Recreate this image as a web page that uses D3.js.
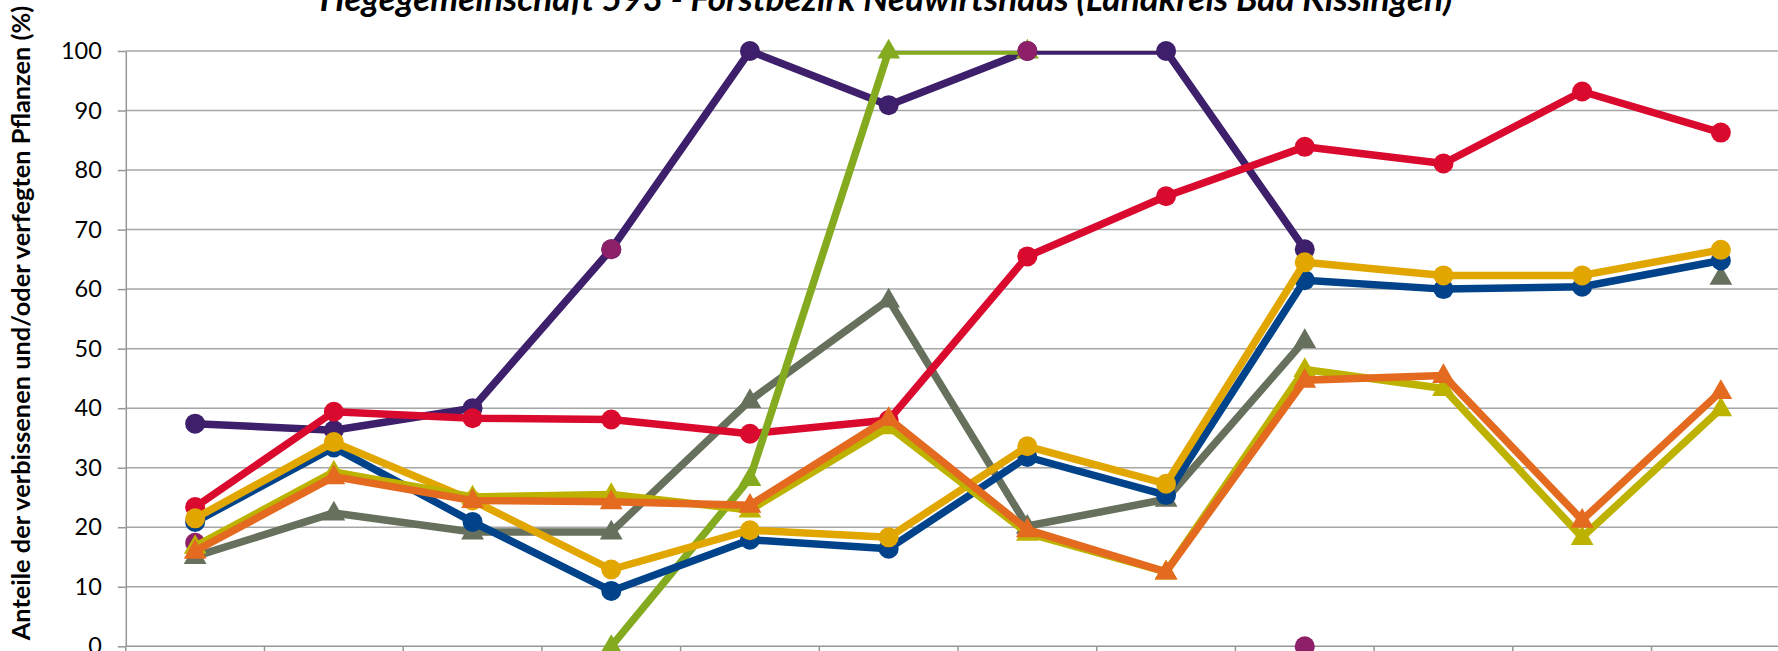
<!DOCTYPE html>
<html>
<head>
<meta charset="utf-8">
<script src="https://cdn.jsdelivr.net/npm/d3@7"></script>
<style>
  html, body { margin: 0; padding: 0; background: #fff; overflow: hidden; }
  #figure { width: 1778px; height: 651px; }
  .grid line { stroke: #a6a6a6; stroke-width: 1.5; }
  .axis path, .axis line { stroke: #969696; stroke-width: 1.5; }
  .axis text { font-family: Lato, "Open Sans", sans-serif; font-size: 23.5px; fill: #000; }
</style>
</head>
<body>
<div id="figure"></div>
<script>
// categories (x axis labels lie below the visible area of the reference)
const years = ["1991", "1994", "1997", "2000", "2003", "2006", "2009", "2012", "2015", "2018", "2021", "2024"];

// series values in percent, null = no value
const purple  = [37.4, 36.3, 40.0, 66.7, 100, 90.9, 100, 100, 66.7, null, null, null];
const magenta = [17.4, null, null, 66.7, null, null, 100, null, 0, null, null, null];
const red     = [23.4, 39.4, 38.3, 38.1, 35.7, 38.0, 65.5, 75.6, 83.9, 81.1, 93.2, 86.3];
const blue    = [20.9, 33.4, 20.9, 9.3, 17.9, 16.4, 31.8, 25.4, 61.5, 60.0, 60.4, 64.8];
const gold    = [21.5, 34.3, 24.5, 12.9, 19.5, 18.3, 33.6, 27.3, 64.5, 62.3, 62.3, 66.6];
const grey    = [15.1, 22.4, 19.2, 19.2, 41.3, 58.2, 20.2, 24.7, 51.4, null, null, 62.0];
const green   = [null, null, null, 0, 28.2, 100, 100, null, null, null, null, null];
const olive   = [16.8, 29.3, 25.1, 25.5, 22.9, 36.9, 19.0, 12.5, 46.5, 43.3, 18.3, 39.9];
const orange  = [16.0, 28.5, 24.5, 24.3, 23.7, 38.3, 19.6, 12.5, 44.7, 45.5, 21.2, 42.8];

const y_ticks = [0, 10, 20, 30, 40, 50, 60, 70, 80, 90, 100];

const title_text = "Hegegemeinschaft 593 - Forstbezirk Neuwirtshaus (Landkreis Bad Kissingen)";
const y_title_text = "Anteile der verbissenen und/oder verfegten Pflanzen (%)";

// drawing order = stacking order (later on top)
const series = [
  { values: purple,  color: "#3e1f6b", marker: "circle" },
  { values: grey,    color: "#66705c", marker: "triangle" },
  { values: red,     color: "#da0a2f", marker: "circle" },
  { values: green,   color: "#84ab1f", marker: "triangle" },
  { values: magenta, color: "#8e1f69", marker: "circle" },
  { values: blue,    color: "#00438a", marker: "circle" },
  { values: gold,    color: "#e2a600", marker: "circle" },
  { values: olive,   color: "#bdb200", marker: "triangle" },
  { values: orange,  color: "#e36a1f", marker: "triangle" }
];

document.addEventListener("DOMContentLoaded", ()=>{
  const figure_width = 1778,
        figure_height = 651;

  // plot area (the reference is cropped: right and bottom run past the picture)
  const plot = { left: 125.8, right: 1790.2, top: 51, bottom: 646.3 };

  let x_scale = d3.scaleBand()
                  .domain(years)
                  .range([plot.left, plot.right]);

  let y_scale = d3.scaleLinear()
                  .domain([0, 100])
                  .range([plot.bottom, plot.top]);

  const cx = d => x_scale(d) + x_scale.bandwidth()/2;

  let svg = d3.select("#figure").append("svg")
              .attr("width", figure_width)
              .attr("height", figure_height);

  svg.append("defs").append("clipPath")
     .attr("id", "plotclip")
     .append("rect")
     .attr("x", plot.left)
     .attr("y", plot.top)
     .attr("width", plot.right - plot.left)
     .attr("height", plot.bottom - plot.top);

  // horizontal gridlines
  svg.append("g")
     .attr("class", "grid")
     .selectAll("line")
     .data(y_ticks.slice(1))
     .join("line")
     .attr("x1", plot.left)
     .attr("x2", plot.right)
     .attr("y1", d => y_scale(d))
     .attr("y2", d => y_scale(d));

  // y axis
  svg.append("g")
     .attr("class", "y axis")
     .attr("transform", "translate(" + plot.left + ",0)")
     .call(d3.axisLeft(y_scale).tickValues(y_ticks).tickSize(8).tickPadding(16).tickSizeOuter(0));

  // x axis: ticks between categories
  let x_axis = svg.append("g").attr("class", "x axis");
  x_axis.append("line")
        .attr("x1", plot.left).attr("x2", plot.right)
        .attr("y1", plot.bottom).attr("y2", plot.bottom);
  x_axis.selectAll("line.tick")
        .data(years.concat(["end"]))
        .join("line")
        .attr("class", "tick")
        .attr("x1", (d,i) => i < years.length ? x_scale(d) : plot.right)
        .attr("x2", (d,i) => i < years.length ? x_scale(d) : plot.right)
        .attr("y1", plot.bottom)
        .attr("y2", plot.bottom + 8);

  let line = d3.line()
               .defined(d => d.v !== null)
               .x(d => cx(d.year))
               .y(d => y_scale(d.v));

  const tri = d3.symbol().type(d3.symbolTriangle).size(225);

  series.forEach(s => {
    const pts = s.values.map((v, i) => ({ year: years[i], v: v }));
    const g = svg.append("g");

    g.append("path")
     .datum(pts)
     .attr("clip-path", "url(#plotclip)")
     .attr("fill", "none")
     .attr("stroke", s.color)
     .attr("stroke-width", 7.5)
     .attr("stroke-linejoin", "round")
     .attr("d", line);

    const valid = pts.filter(d => d.v !== null);
    if (s.marker === "circle") {
      g.selectAll("circle")
       .data(valid)
       .join("circle")
       .attr("cx", d => cx(d.year))
       .attr("cy", d => y_scale(d.v))
       .attr("r", 10)
       .attr("fill", s.color);
    } else {
      g.selectAll("path.marker")
       .data(valid)
       .join("path")
       .attr("class", "marker")
       .attr("transform", d => "translate(" + cx(d.year) + "," + (y_scale(d.v) + 1) + ")")
       .attr("d", tri)
       .attr("fill", s.color);
    }
  });

  // chart title (top is cut off in the reference)
  let title = svg.append("text")
     .attr("x", 886)
     .attr("y", 10.5)
     .attr("text-anchor", "middle")
     .style("font-family", "Lato, 'Open Sans', sans-serif")
     .style("font-weight", "bold")
     .style("font-style", "italic")
     .style("font-size", "28px")
     .text(title_text);
  let tw = title.node().getComputedTextLength();
  title.style("font-size", (28 * 1133 / tw) + "px");

  // y axis title
  let ytitle = svg.append("text")
     .attr("transform", "translate(30,323) rotate(-90)")
     .attr("text-anchor", "middle")
     .style("font-family", "Lato, 'Open Sans', sans-serif")
     .style("font-weight", "bold")
     .style("font-size", "21px")
     .text(y_title_text);
  let yw = ytitle.node().getComputedTextLength();
  ytitle.style("font-size", (21 * 635 / yw) + "px");

})//DOMContentLoaded
</script>
</body>
</html>
